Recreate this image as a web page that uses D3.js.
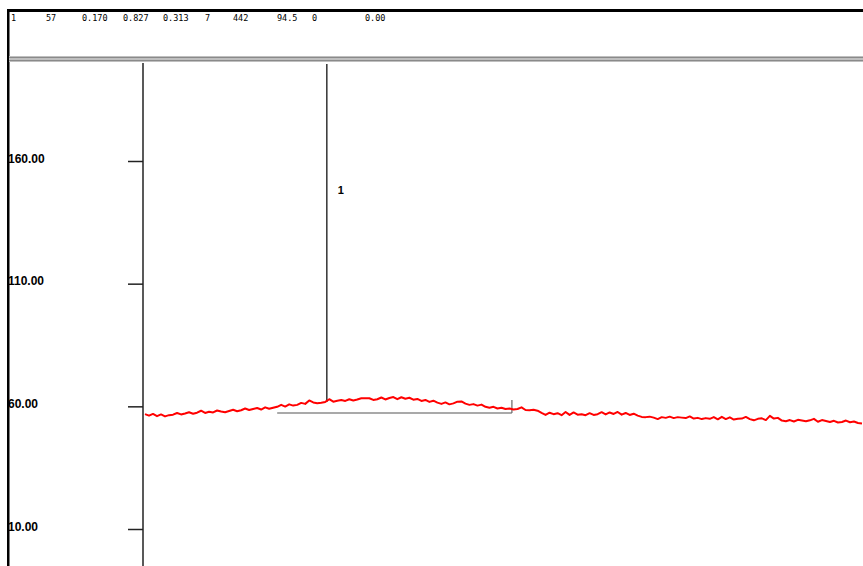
<!DOCTYPE html>
<html>
<head>
<meta charset="utf-8">
<script src="https://cdn.jsdelivr.net/npm/d3@7"></script>
<style>
  html, body { margin: 0; padding: 0; background: #fff; }
  svg { display: block; }
</style>
</head>
<body>
<svg id="svg"></svg>
<script>
// header row of the peak table
const headerValues = ["1", "57", "0.170", "0.827", "0.313", "7", "442", "94.5", "0", "0.00"];
const headerX = [11, 46, 82, 123, 163, 205, 233, 277, 312, 365];

// y ticks
const yTicks = [10, 60, 110, 160];

// detector signal, one value per sample
const signal = [
    56.8, 56.2, 56.9, 56.0, 56.7, 55.9, 56.4, 56.6, 57.3, 56.7,
    57.1, 57.6, 57.0, 57.4, 58.2, 57.3, 57.8, 57.5, 58.3, 57.9,
    57.6, 58.1, 58.6, 58.0, 58.4, 59.1, 58.5, 58.9, 59.3, 58.7,
    59.6, 59.0, 59.4, 59.8, 60.6, 59.9, 60.8, 60.3, 60.6, 61.4,
    61.0, 62.4, 61.6, 61.3,
    61.5, 61.8, 62.9, 61.9, 62.3, 62.6, 62.2, 62.9, 62.4, 62.8,
    63.3, 63.3, 63.3, 62.6, 62.9, 63.6, 62.8, 63.4, 63.8, 62.9,
    63.7, 63.1, 63.5, 62.7, 63.0, 62.2, 62.6, 61.8, 62.3, 61.5,
    61.0, 61.6, 60.8, 61.2, 61.9, 62.0, 61.1, 60.6, 60.9, 60.3,
    60.7, 59.8, 59.4, 59.8, 59.1,
    59.4, 58.9, 59.1, 58.7, 58.9, 59.6, 58.5, 58.4, 58.6, 58.2,
    57.3, 56.5, 57.4, 56.8, 57.2, 56.4, 57.7, 56.5, 57.5, 56.6,
    56.8, 56.4, 57.2, 56.5, 56.8, 57.6, 56.7, 57.5, 56.9, 57.7,
    56.6, 57.3, 56.5, 57.0, 56.2, 55.7, 55.6, 55.8, 55.4, 54.8,
    55.6, 55.3, 55.8, 55.2, 55.6,
    55.4, 55.2, 55.9, 55.0, 55.3, 54.8, 55.2, 54.9, 55.6, 54.7,
    55.7, 54.8, 55.5, 54.6, 54.9, 55.0, 55.7, 54.8, 54.3, 54.9,
    55.1, 54.4, 56.1, 55.0, 55.3, 54.2, 53.9, 54.4, 53.8, 54.5,
    54.2, 53.9, 54.3, 54.9, 53.7, 54.4, 54.0, 53.6, 54.1, 53.4,
    53.6, 54.2, 53.5, 53.8, 53.2, 53.0
];

// integrated peak: apex sample, baseline start/end samples and level
const peakLabels = ["1"];
const peakApex = [45.4];
const baseStart = [33.0];
const baseEnd = [91.6];
const baseLevel = [57.3];

const width = 863;
const height = 566;
let svg = d3.select("#svg").attr("width", width).attr("height", height);

let xScale = d3.scaleLinear().domain([0, signal.length - 1]).range([145, 862]);
let yScale = d3.scaleLinear().domain([10, 160]).range([529, 161]);

function drawFrame() {
    svg.append("rect").attr("width", width).attr("height", height).attr("fill", "#fff");
    // top border
    svg.append("rect").attr("x", 7).attr("y", 9).attr("width", width - 7).attr("height", 3).attr("fill", "#000");
    // left border
    svg.append("rect").attr("x", 7).attr("y", 9).attr("width", 2.5).attr("height", height - 9).attr("fill", "#000");
    // double separator line
    svg.append("rect").attr("x", 9).attr("y", 56).attr("width", width - 9).attr("height", 6).attr("fill", "#d0d0d0");
    svg.append("line").attr("x1", 9).attr("x2", width).attr("y1", 57.5).attr("y2", 57.5)
        .attr("stroke", "#8a8a8a").attr("stroke-width", 1.3);
    svg.append("line").attr("x1", 9).attr("x2", width).attr("y1", 60.5).attr("y2", 60.5)
        .attr("stroke", "#8a8a8a").attr("stroke-width", 1.3);
}

function drawHeader() {
    svg.append("g").selectAll("text")
        .data(headerValues)
        .join("text")
        .attr("x", (d, i) => headerX[i])
        .attr("y", 21)
        .attr("font-family", "'DejaVu Sans Mono', monospace")
        .attr("font-size", "8.5px")
        .attr("fill", "#000")
        .text(d => d);
}

function drawAxis() {
    let axis = d3.axisLeft(yScale)
        .tickValues(yTicks)
        .tickSize(15)
        .tickFormat(d3.format(".2f"));
    let g = svg.append("g").attr("transform", "translate(143,0)").call(axis);
    g.select(".domain").remove();
    g.selectAll(".tick line").attr("stroke", "#222").attr("stroke-width", 1.5);
    g.selectAll(".tick text")
        .attr("x", -135)
        .attr("dy", "0.1em")
        .attr("text-anchor", "start")
        .attr("font-family", "'Liberation Sans', Arial, sans-serif")
        .attr("font-weight", "bold")
        .attr("font-size", "12px")
        .attr("fill", "#000");
    svg.append("line").attr("x1", 143).attr("x2", 143).attr("y1", 63).attr("y2", height)
        .attr("stroke", "#222").attr("stroke-width", 1.5);
}

function drawPeaks() {
    peakLabels.forEach((lab, i) => {
        // baseline
        svg.append("line")
            .attr("x1", xScale(baseStart[i])).attr("x2", xScale(baseEnd[i]))
            .attr("y1", yScale(baseLevel[i])).attr("y2", yScale(baseLevel[i]))
            .attr("stroke", "#8c8c8c").attr("stroke-width", 1.5);
        // end of integration tick
        svg.append("line")
            .attr("x1", xScale(baseEnd[i])).attr("x2", xScale(baseEnd[i]))
            .attr("y1", yScale(baseLevel[i]) - 13).attr("y2", yScale(baseLevel[i]))
            .attr("stroke", "#666").attr("stroke-width", 1.2);
        // apex marker
        let apexVal = signal[Math.round(peakApex[i])];
        svg.append("line")
            .attr("x1", xScale(peakApex[i])).attr("x2", xScale(peakApex[i]))
            .attr("y1", 64).attr("y2", yScale(apexVal))
            .attr("stroke", "#000").attr("stroke-width", 1.2);
        svg.append("text")
            .attr("x", xScale(peakApex[i]) + 11)
            .attr("y", 194)
            .attr("font-family", "'Liberation Sans', Arial, sans-serif")
            .attr("font-weight", "bold")
            .attr("font-size", "11px")
            .text(lab);
    });
}

function drawSignal() {
    let line = d3.line()
        .x((d, i) => xScale(i))
        .y(d => yScale(d));
    svg.append("path")
        .datum(signal)
        .attr("d", line)
        .attr("fill", "none")
        .attr("stroke", "#ff0000")
        .attr("stroke-width", 2)
        .attr("stroke-linejoin", "round");
}

drawFrame();
drawHeader();
drawAxis();
drawPeaks();
drawSignal();
</script>
</body>
</html>
